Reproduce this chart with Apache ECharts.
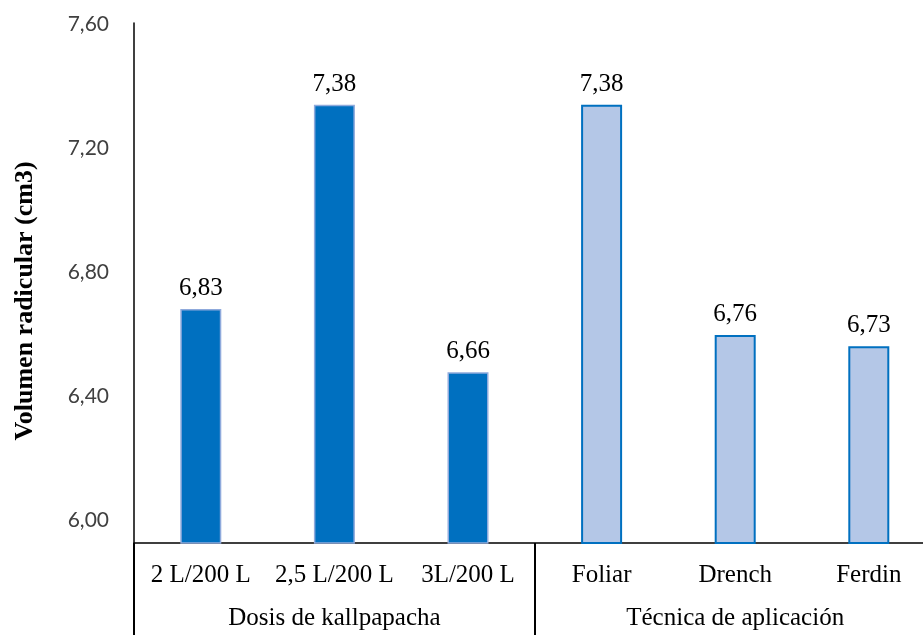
<!DOCTYPE html>
<html>
<head>
<meta charset="utf-8">
<script src="https://cdn.jsdelivr.net/npm/echarts@6/dist/echarts.min.js"></script>
<style>
html,body{margin:0;padding:0;background:#fff;}
#chart{width:923px;height:635px;}
</style>
</head>
<body>
<div id="chart"></div>
<script>
const categories = ['2 L/200 L', '2,5 L/200 L', '3L/200 L', 'Foliar', 'Drench', 'Ferdin'];
const groups = ['Dosis de kallpapacha', 'Técnica de aplicación'];
const groupOfCategory = [0, 0, 0, 1, 1, 1];
const values = [6.83, 7.38, 6.66, 7.38, 6.76, 6.73];
const yTickLabels = [6.00, 6.40, 6.80, 7.20, 7.60];
const yTitle = 'Volumen radicular (cm3)';

const groupStyles = [
  { color: '#0070C0', borderColor: '#8FAADC', borderWidth: 1.5 },
  { color: '#B4C7E7', borderColor: '#0070C0', borderWidth: 2 }
];
const serif = '"Liberation Serif", "Times New Roman", serif';
const comma = v => v.toFixed(2).replace('.', ',');

const chart = echarts.init(document.getElementById('chart'), null, { renderer: 'canvas' });
const gridLeft = 134, gridRight = -12.6;
chart.setOption({
  animation: false,
  backgroundColor: '#ffffff',
  grid: [
    { left: gridLeft, right: gridRight, top: 23, bottom: 92, outerBoundsMode: 'none', containLabel: false },
    { left: gridLeft, right: gridRight, top: 24, bottom: 115, outerBoundsMode: 'none', containLabel: false }
  ],
  xAxis: [
    {
      type: 'category', gridIndex: 0, data: categories, position: 'bottom',
      axisLine: { show: true, onZero: false, lineStyle: { color: '#000', width: 1.5 } },
      axisTick: {
        show: true, length: 92, inside: false,
        interval: (i) => i === 0 || groupOfCategory[i] !== groupOfCategory[i - 1],
        lineStyle: { color: '#000', width: 2 }
      },
      axisLabel: { interval: 0, margin: 20, color: '#000', fontFamily: serif, fontSize: 25 },
      splitLine: { show: false }
    },
    {
      type: 'category', gridIndex: 0, data: groups, position: 'bottom', offset: 0,
      axisLine: { show: false, onZero: false }, axisTick: { show: false },
      axisLabel: { interval: 0, margin: 63, color: '#000', fontFamily: serif, fontSize: 25 },
      splitLine: { show: false }
    },
    { type: 'category', gridIndex: 1, show: false, data: categories }
  ],
  yAxis: [
    {
      type: 'value', gridIndex: 0, min: 6.2, max: 7.6,
      axisLine: { show: true, lineStyle: { color: '#000', width: 1.5 } },
      axisTick: { show: false }, axisLabel: { show: false }, splitLine: { show: false }
    },
    {
      type: 'value', gridIndex: 1,
      min: yTickLabels[0], max: yTickLabels[yTickLabels.length - 1],
      interval: yTickLabels[1] - yTickLabels[0],
      axisLine: { show: false }, axisTick: { show: false }, splitLine: { show: false },
      axisLabel: {
        margin: 25, color: '#404040', fontFamily: 'Lato, "Liberation Sans", sans-serif', fontSize: 21,
        formatter: v => comma(v)
      }
    }
  ],
  series: [{
    type: 'bar', xAxisIndex: 0, yAxisIndex: 0, barWidth: 41,
    data: values.map((v, i) => ({ value: v, itemStyle: groupStyles[groupOfCategory[i]] })),
    label: {
      show: true, position: 'top', distance: 8, color: '#000',
      fontFamily: serif, fontSize: 25,
      formatter: p => comma(p.value)
    }
  }],
  graphic: [{
    type: 'text', x: 25, y: 301, rotation: Math.PI / 2,
    style: {
      text: yTitle, fill: '#000', font: 'bold 26px ' + serif,
      textAlign: 'center', textVerticalAlign: 'middle'
    }
  }]
});
</script>
</body>
</html>
